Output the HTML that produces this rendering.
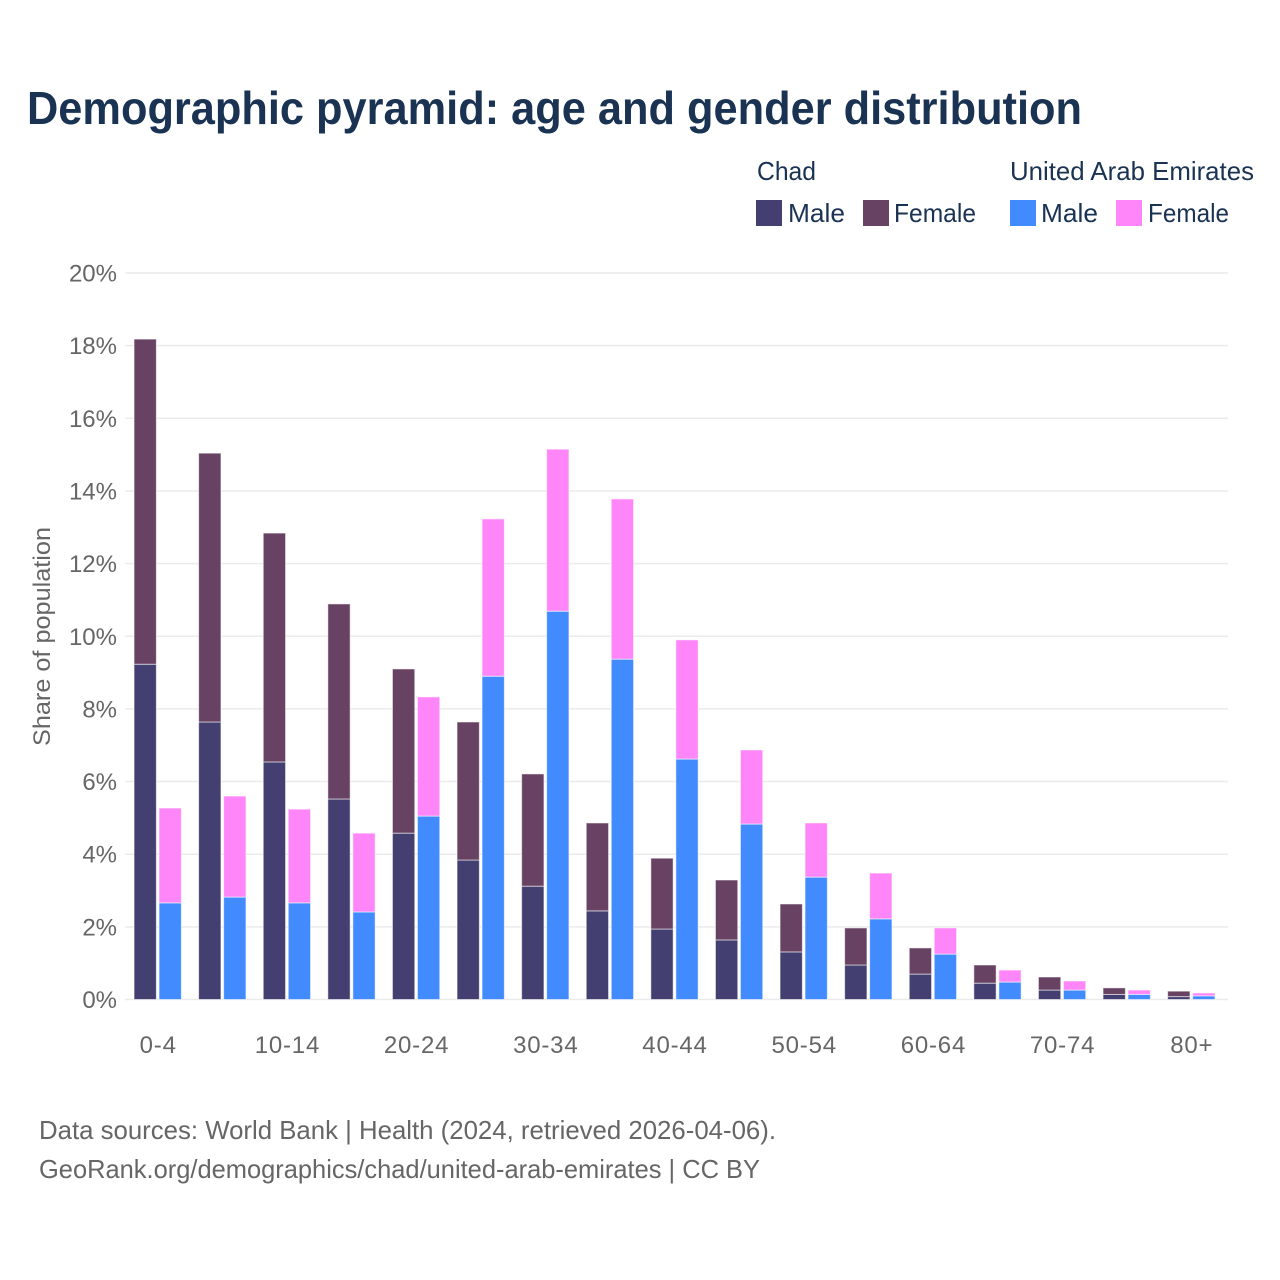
<!DOCTYPE html>
<html lang="en">
<head>
<meta charset="utf-8">
<title>Demographic pyramid: age and gender distribution</title>
<style>
html,body{margin:0;padding:0;background:#fff;}
svg{display:block;font-family:"Liberation Sans",sans-serif;}
</style>
</head>
<body>
<svg id="chart" xmlns="http://www.w3.org/2000/svg" width="1280" height="1280" viewBox="0 0 1280 1280">
  <rect x="0" y="0" width="1280" height="1280" fill="#ffffff"/>
  <text x="27" y="124" font-size="46" font-weight="700" fill="#1a3353" textLength="1055" lengthAdjust="spacingAndGlyphs">Demographic pyramid: age and gender distribution</text>

  <g font-size="26" fill="#1a3353">
    <text x="757" y="180" textLength="59" lengthAdjust="spacingAndGlyphs">Chad</text>
    <text x="1010" y="180" textLength="244" lengthAdjust="spacingAndGlyphs">United Arab Emirates</text>
    <rect x="756" y="200" width="26" height="26" fill="#433f70"/>
    <text x="788" y="222" textLength="57" lengthAdjust="spacingAndGlyphs">Male</text>
    <rect x="863" y="200" width="26" height="26" fill="#684262"/>
    <text x="894" y="222" textLength="82" lengthAdjust="spacingAndGlyphs">Female</text>
    <rect x="1010" y="200" width="26" height="26" fill="#418bff"/>
    <text x="1041" y="222" textLength="57" lengthAdjust="spacingAndGlyphs">Male</text>
    <rect x="1116" y="200" width="26" height="26" fill="#ff86f8"/>
    <text x="1148" y="222" textLength="81" lengthAdjust="spacingAndGlyphs">Female</text>
  </g>

  <g id="grid"></g>
  <g id="yLabels"></g>
  <g id="bars"></g>
  <g id="xLabels"></g>

  <text transform="translate(50,746) rotate(-90)" x="0" y="0" font-size="24" fill="#666666" textLength="219" lengthAdjust="spacingAndGlyphs">Share of population</text>

  <text x="39" y="1139" font-size="26" fill="#666666" textLength="737" lengthAdjust="spacingAndGlyphs">Data sources: World Bank | Health (2024, retrieved 2026-04-06).</text>
  <text x="39" y="1178" font-size="26" fill="#666666" textLength="721" lengthAdjust="spacingAndGlyphs">GeoRank.org/demographics/chad/united-arab-emirates | CC BY</text>
</svg>
<script>
const categories = ["0-4","5-9","10-14","15-19","20-24","25-29","30-34","35-39","40-44","45-49","50-54","55-59","60-64","65-69","70-74","75-79","80+"];
const chadMale = [9.23,7.64,6.54,5.52,4.58,3.84,3.12,2.44,1.94,1.64,1.31,0.95,0.70,0.45,0.26,0.14,0.08];
const chadFemale = [8.95,7.40,6.30,5.37,4.52,3.80,3.09,2.42,1.95,1.65,1.32,1.02,0.72,0.50,0.36,0.18,0.15];
const uaeMale = [2.66,2.82,2.66,2.41,5.05,8.90,10.69,9.37,6.62,4.83,3.37,2.22,1.25,0.48,0.26,0.14,0.10];
const uaeFemale = [2.61,2.78,2.58,2.17,3.28,4.33,4.46,4.41,3.28,2.04,1.49,1.26,0.72,0.33,0.25,0.12,0.08];
const yTicks = [0,2,4,6,8,10,12,14,16,18,20];
const xTickLabels = ["0-4","10-14","20-24","30-34","40-44","50-54","60-64","70-74","80+"];

const NS = "http://www.w3.org/2000/svg";
const yScale = function (v) { return 999.5 - v * 36.325; };
const xScale = function (i) { return 157.7 + i * 64.6; };
const barWidth = 22.3;
const barGap = 2.7;

function make(tag, parentId) {
  const el = document.createElementNS(NS, tag);
  document.getElementById(parentId).appendChild(el);
  return el;
}

yTicks.forEach(function (t) {
  const line = make("line", "grid");
  
  
  line.setAttribute("x1", 125);
  line.setAttribute("x2", 1228);
  line.setAttribute("y1", yScale(t));
  line.setAttribute("y2", yScale(t));
  line.setAttribute("stroke", "#ebebeb");
  line.setAttribute("stroke-width", 1.5);

  const label = make("text", "yLabels");
  
  
  label.setAttribute("x", 117);
  label.setAttribute("y", yScale(t) + 8.5);
  label.setAttribute("text-anchor", "end");
  label.setAttribute("font-size", 24);
  label.setAttribute("fill", "#666666");
  label.textContent = t + "%";
});

function drawSegment(x, base, value, color) {
  const bar = make("rect", "bars");
  
  
  bar.setAttribute("x", x);
  bar.setAttribute("y", yScale(base + value));
  bar.setAttribute("width", barWidth);
  bar.setAttribute("height", yScale(base) - yScale(base + value));
  bar.setAttribute("fill", color);
  bar.setAttribute("stroke", "#ffffff");
  bar.setAttribute("stroke-opacity", 0.55);
  bar.setAttribute("stroke-width", 1);
}

categories.forEach(function (c, i) {
  const left = xScale(i) - barGap / 2 - barWidth;
  const right = xScale(i) + barGap / 2;
  drawSegment(left, 0, chadMale[i], "#433f70");
  drawSegment(left, chadMale[i], chadFemale[i], "#684262");
  drawSegment(right, 0, uaeMale[i], "#418bff");
  drawSegment(right, uaeMale[i], uaeFemale[i], "#ff86f8");
});

xTickLabels.forEach(function (name) {
  const label = make("text", "xLabels");
  
  
  label.setAttribute("x", xScale(categories.indexOf(name)) + 0.5);
  label.setAttribute("y", 1053);
  label.setAttribute("text-anchor", "middle");
  label.setAttribute("font-size", 24);
  label.setAttribute("letter-spacing", "0.8");
  label.setAttribute("fill", "#666666");
  label.textContent = name;
});
</script>
</body>
</html>
